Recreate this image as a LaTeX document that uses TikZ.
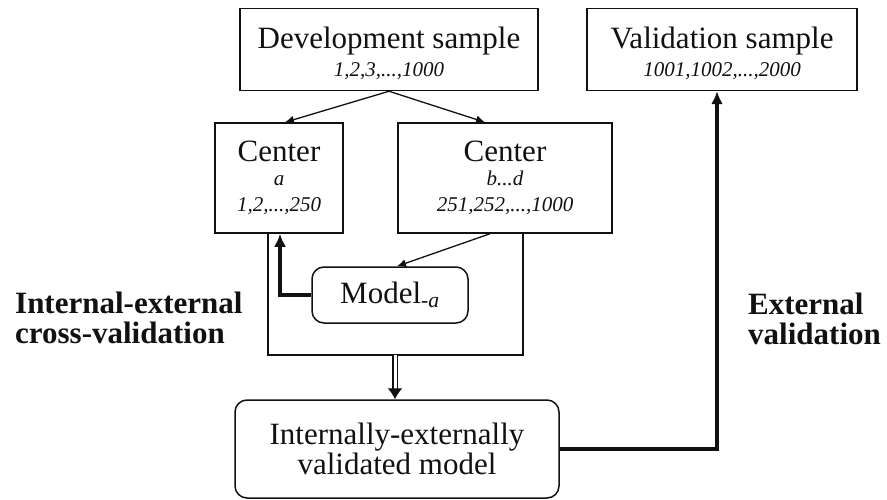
\documentclass[tikz,border=0pt]{standalone}
\usepackage{fontspec}
\setmainfont{Liberation Serif}
\usepackage{xcolor}
\usepackage{tikz}
\usetikzlibrary{arrows.meta,positioning,calc}
\definecolor{ink}{HTML}{111111}
\newcommand{\bigtxt}{\fontsize{31}{30}\selectfont}
\newcommand{\smalltxt}{\fontsize{21}{18}\selectfont\itshape}
\tikzset{
  box/.style={rectangle, draw=ink, line width=1.5pt, align=center, inner sep=0pt, font=\bigtxt, text=ink},
  roundbox/.style={box, rounded corners=12pt},
  sidelabel/.style={align=left, font=\bigtxt\bfseries, text=ink, inner sep=0pt},
  arrow/.style={-{Latex[length=9pt,width=8pt]}, line width=1.3pt, draw=ink},
  link/.style={line width=1.3pt, draw=ink},
  thickarrow/.style={-{Latex[length=13pt,width=12pt]}, line width=4pt, draw=ink},
  doubleline/.style={double=white, double distance=3pt, line width=1.3pt, draw=ink},
  headonly/.style={-{Latex[length=11pt,width=15pt]}, line width=1.3pt, draw=ink}
}

\begin{document}
\begin{tikzpicture}[x=1pt, y=-1pt]
  \useasboundingbox (0,0) rectangle (887,500);
  \node[box, minimum width=298pt, minimum height=82pt] (dev) at (389,49.5)
    {\rule{0pt}{30pt}Development sample\\[-2pt]{\smalltxt 1,2,3,...,1000}};
  \node[box, minimum width=270pt, minimum height=82pt] (val) at (722,49.5)
    {\rule{0pt}{30pt}Validation sample\\[-2pt]{\smalltxt 1001,1002,...,2000}};
  \node[box, minimum width=128pt, minimum height=110pt] (ca) at (279,178)
    {Center\\[-6pt]{\smalltxt a}\\[-4pt]{\smalltxt 1,2,...,250}};
  \node[box, minimum width=214pt, minimum height=110pt] (cb) at (505,178)
    {Center\\[-6pt]{\smalltxt b...d}\\[-4pt]{\smalltxt 251,252,...,1000}};
  \node[roundbox, minimum width=156pt, minimum height=56pt] (model) at (390,295)
    {Model\textsubscript{\itshape -a}};
  \node[roundbox, minimum width=324pt, minimum height=98pt] (final) at (397,449)
    {Internally-externally\\validated model};
  \node[sidelabel, anchor=west] (iecv) at (15,318) {Internal-external\\cross-validation};
  \node[sidelabel, anchor=west] (ext) at (748,319) {External\\validation};
  \coordinate (join) at (395,355);
  \coordinate (tipstart) at (395,389);

  \draw[arrow] (dev.south) -- ($(ca.north)+(6,0)$);
  \draw[arrow] (dev.south) -- ($(cb.north)+(-20,0)$);
  \draw[arrow] ($(cb.south)+(-15,0)$) -- ($(model.north)+(7,0)$);
  \draw[thickarrow] (model.west) -| ($(ca.south)+(1,0)$);
  \draw[link] ($(ca.south)+(-11,0)$) |- (join) -| ($(cb.south)+(18,0)$);
  \draw[doubleline] (join) -- (tipstart);
  \draw[headonly] (tipstart) -- (final.north -| join);
  \draw[thickarrow] (final.east) -| ($(val.south)+(-5,0)$);
\end{tikzpicture}
\end{document}
